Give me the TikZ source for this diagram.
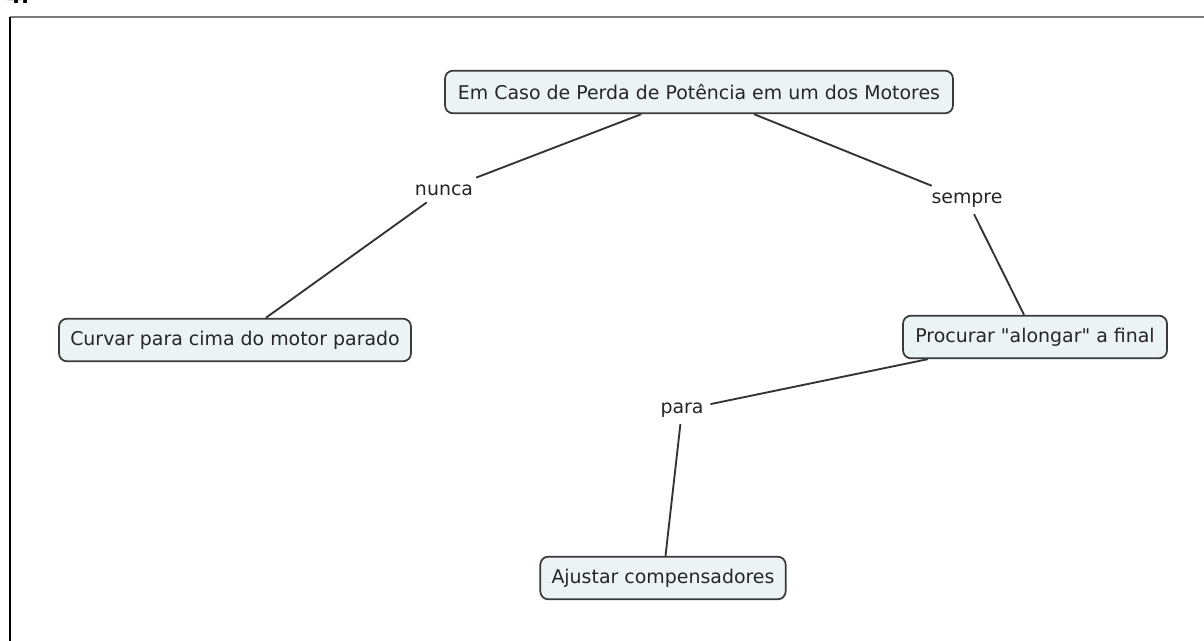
\documentclass[tikz,border=0pt]{standalone}
\usepackage{fontspec}
\setmainfont{DejaVu Sans}
\definecolor{boxfill}{HTML}{EBF3F5}
\definecolor{boxline}{HTML}{3A3A3A}
\definecolor{linkc}{HTML}{333333}
\definecolor{framegray}{HTML}{7A7A7A}
\begin{document}
\begin{tikzpicture}[x=0.75pt,y=-0.75pt,
  concept/.style={draw=boxline,line width=1.3pt,fill=boxfill,rounded corners=6pt,
    font=\fontsize{14.2}{16}\selectfont,text=black!85,inner sep=0pt,minimum height=32pt,align=center},
  linklabel/.style={font=\fontsize{14.2}{16}\selectfont,text=black!85,inner sep=5pt},
  link/.style={draw=linkc,line width=1.4pt}]
\useasboundingbox (0,0) rectangle (1204,641);
\fill[white] (0,0) rectangle (1204,641);
% frame
\draw[framegray,line width=1.8pt] (10,17) -- (1210,17);
\draw[black,line width=1.5pt] (10,17) -- (10,650);
\node[font=\bfseries\fontsize{16}{18}\selectfont,anchor=base west,inner sep=0pt] (num) at (6,4) {4.};
% concepts
\node[concept,minimum width=381pt] (top) at (699,92) {Em Caso de Perda de Potência em um dos Motores};
\node[concept,minimum width=264pt] (curvar) at (235,340) {Curvar para cima do motor parado};
\node[concept,minimum width=198pt] (procurar) at (1035,337) {Procurar \textquotedbl alongar\textquotedbl{} a final};
\node[concept,minimum width=184pt] (ajustar) at (663,578) {Ajustar compensadores};
% link labels
\node[linklabel] (nunca) at (444,190) {nunca};
\node[linklabel] (sempre) at (967,200) {sempre};
\node[linklabel] (para) at (682,410) {para};
% connectors
\draw[link] (top) -- (nunca);
\draw[link] (nunca) -- (curvar);
\draw[link] (top) -- (sempre);
\draw[link] (sempre) -- (procurar);
\draw[link] (procurar) -- (para);
\draw[link] (para) -- (ajustar);
\end{tikzpicture}
\end{document}
